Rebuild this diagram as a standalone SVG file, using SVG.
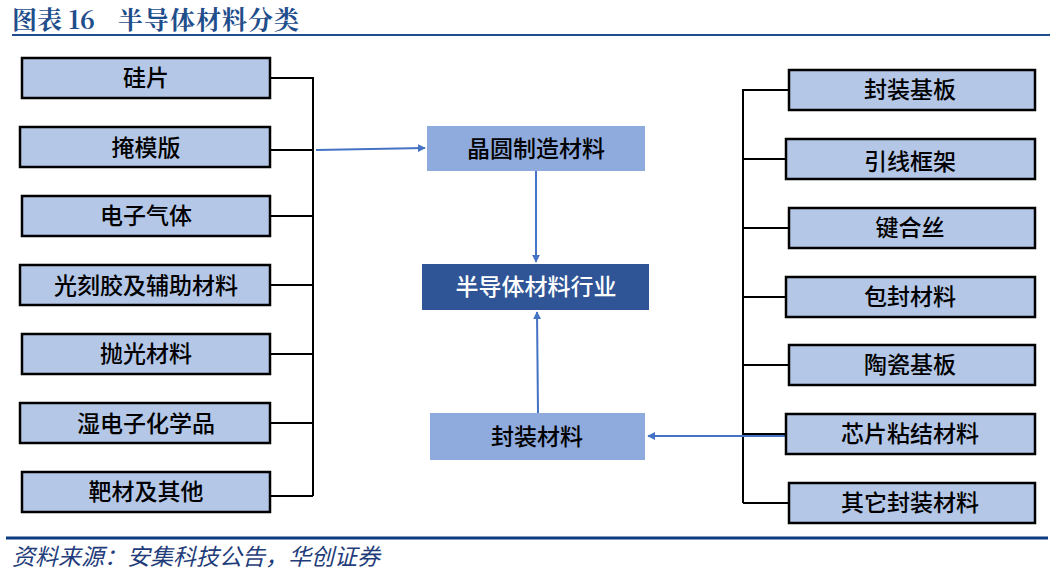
<svg xmlns="http://www.w3.org/2000/svg" width="1062" height="574" viewBox="0 0 1062 574">
<defs>
<style>
.t{font-family:"Noto Sans CJK SC","Liberation Sans",sans-serif;font-size:23px;font-weight:500;text-anchor:middle;dominant-baseline:central;fill:#000}
.b{fill:#b4c7e7;stroke:#000;stroke-width:2.5}
.m{fill:#8faadc}
.k{stroke:#000;stroke-width:2;fill:none}
.a{stroke:#4472c4;stroke-width:2;fill:none;marker-end:url(#ar)}
.h{font-family:'Noto Serif CJK SC','Noto Sans CJK SC',serif;font-size:25px;font-weight:bold;fill:#1f4e8c}
</style>
<marker id="ar" viewBox="0 0 10 10" refX="9" refY="5" markerWidth="4" markerHeight="4" orient="auto"><path d="M0,0L10,5L0,10z" fill="#4472c4"/></marker>
</defs>
<rect width="1062" height="574" fill="#fff"/>
<text class="h" x="12" y="29">图表 16</text>
<text class="h" x="118" y="29" letter-spacing="1">半导体材料分类</text>
<line x1="12" y1="35" x2="1050" y2="35" stroke="#1f4e8c" stroke-width="2"/>
<line x1="6" y1="538" x2="1048" y2="538" stroke="#0b3b80" stroke-width="3"/>
<text x="12" y="565" style="font-family:'Noto Sans CJK SC',sans-serif;font-size:23px;font-style:italic;fill:#1f3d7a">资料来源：安集科技公告，华创证券</text>
<g id="connectors">
<path class="k" d="M270,78H313V496M270,150H313M270,216H313M270,285H313M270,354H313M270,423H313M270,496H313"/>
<path class="k" d="M789,90H743V503M786,159H743M789,228H743M786,297H743M789,365H743M786,434H743M789,503H743"/>
<path class="a" d="M316,150L425,148"/>
<path class="a" d="M536,171V262"/>
<path class="a" d="M538,413L537,312"/>
<path class="a" d="M785,436H648"/>
</g>
<g id="n1"><rect class="b" x="22" y="58" width="248" height="40"/><text class="t" x="146" y="76">硅片</text></g>
<g id="n2"><rect class="b" x="20" y="127" width="250" height="40"/><text class="t" x="146" y="146">掩模版</text></g>
<g id="n3"><rect class="b" x="22" y="196" width="248" height="40"/><text class="t" x="146" y="214">电子气体</text></g>
<g id="n4"><rect class="b" x="20" y="265" width="250" height="40"/><text class="t" x="146" y="284">光刻胶及辅助材料</text></g>
<g id="n5"><rect class="b" x="22" y="334" width="248" height="40"/><text class="t" x="146" y="352">抛光材料</text></g>
<g id="n6"><rect class="b" x="20" y="403" width="250" height="40"/><text class="t" x="146" y="422">湿电子化学品</text></g>
<g id="n7"><rect class="b" x="22" y="472" width="248" height="40"/><text class="t" x="146" y="490">靶材及其他</text></g>
<g id="c1"><rect class="m" x="427" y="126" width="218" height="45"/><text class="t" x="536" y="147">晶圆制造材料</text></g>
<g id="c2"><rect fill="#2f5597" x="422" y="264" width="227" height="46"/><text class="t" x="536" y="285" style="fill:#fff">半导体材料行业</text></g>
<g id="c3"><rect class="m" x="430" y="413" width="215" height="47"/><text class="t" x="537" y="435">封装材料</text></g>
<g id="r1"><rect class="b" x="789" y="70" width="246" height="40"/><text class="t" x="910" y="88">封装基板</text></g>
<g id="r2"><rect class="b" x="786" y="139" width="249" height="40"/><text class="t" x="910" y="160">引线框架</text></g>
<g id="r3"><rect class="b" x="789" y="208" width="246" height="40"/><text class="t" x="910" y="226">键合丝</text></g>
<g id="r4"><rect class="b" x="786" y="277" width="249" height="40"/><text class="t" x="910" y="295">包封材料</text></g>
<g id="r5"><rect class="b" x="789" y="345" width="246" height="40"/><text class="t" x="910" y="363">陶瓷基板</text></g>
<g id="r6"><rect class="b" x="786" y="414" width="249" height="40"/><text class="t" x="910" y="432">芯片粘结材料</text></g>
<g id="r7"><rect class="b" x="789" y="483" width="246" height="40"/><text class="t" x="910" y="501">其它封装材料</text></g>
</svg>
